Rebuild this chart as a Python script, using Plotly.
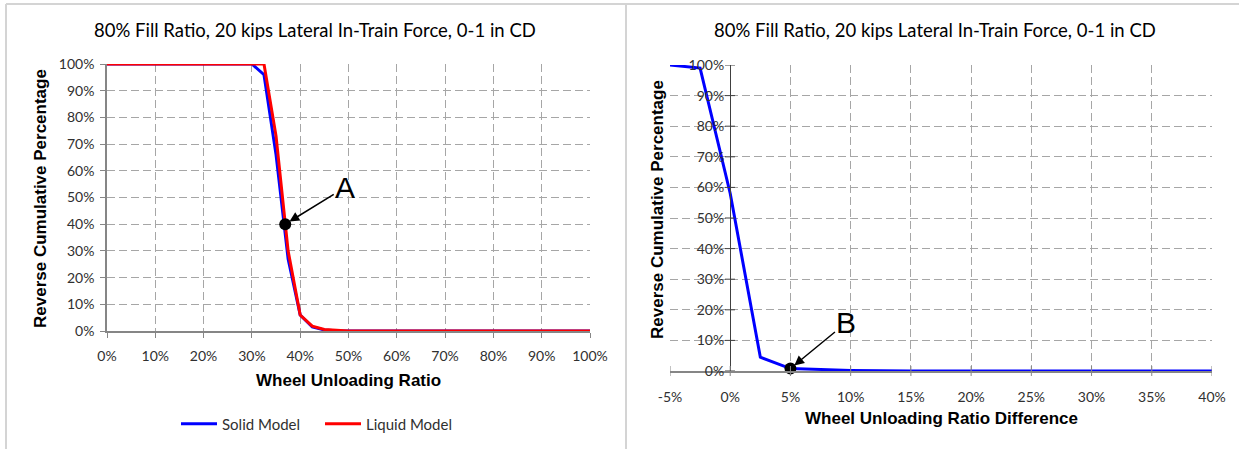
import plotly.graph_objects as go

# ---- data -------------------------------------------------------------
solid_x = [0.0, 0.30, 0.325, 0.35, 0.375, 0.40, 0.425, 0.45, 0.475, 0.50, 1.00]
solid_y = [1.00, 1.00, 0.96, 0.66, 0.27, 0.06, 0.015, 0.004, 0.001, 0.0, 0.0]

liquid_x = [0.0, 0.325, 0.35, 0.375, 0.40, 0.425, 0.45, 0.475, 0.50, 1.00]
liquid_y = [1.00, 1.00, 0.73, 0.30, 0.06, 0.018, 0.006, 0.002, 0.0, 0.0]

diff_x = [-0.05, -0.025, 0.0, 0.025, 0.05, 0.075, 0.10, 0.125, 0.15, 0.40]
diff_y = [1.00, 0.99, 0.58, 0.045, 0.008, 0.004, 0.002, 0.0005, 0.0, 0.0]

point_a = (0.369, 0.40)
point_b = (0.05, 0.008)

title_text = "80% Fill Ratio, 20 kips Lateral In-Train Force, 0-1 in CD"
left_x_ticks = [i / 10 for i in range(11)]
left_x_labels = [f"{i * 10}%" for i in range(11)]
right_x_ticks = [i / 100 for i in range(-5, 41, 5)]
right_x_labels = [f"{i}%" for i in range(-5, 41, 5)]
y_ticks = [i / 10 for i in range(11)]
y_labels = [f"{i * 10}%" for i in range(11)]

# ---- layout geometry (pixels -> paper) ---------------------------------
W, H = 1239, 449
def px(x):
    return x / W
def py(y):
    return 1 - y / H

GRID = "#a6a6a6"
AXIS = "#868686"
TICKFONT = dict(family="Lato", size=14, color="#303030")
AXTITLE = dict(family="Liberation Sans", size=17, color="#000000")
TITLEFONT = dict(family="Lato", size=18.5, color="#000000")
LETTERFONT = dict(family="Liberation Sans", size=30, color="black")

fig = go.Figure()

fig.add_trace(go.Scatter(x=solid_x, y=solid_y, mode="lines", name="Solid Model",
                         line=dict(color="#0000ff", width=3), cliponaxis=False,
                         xaxis="x", yaxis="y"))
fig.add_trace(go.Scatter(x=liquid_x, y=liquid_y, mode="lines", name="Liquid Model",
                         line=dict(color="#ff0000", width=3), cliponaxis=False,
                         xaxis="x", yaxis="y"))
fig.add_trace(go.Scatter(x=[point_a[0]], y=[point_a[1]], mode="markers", showlegend=False,
                         marker=dict(color="black", size=12), cliponaxis=False,
                         xaxis="x", yaxis="y"))

fig.add_trace(go.Scatter(x=diff_x, y=diff_y, mode="lines", showlegend=False,
                         line=dict(color="#0000ff", width=3), cliponaxis=False,
                         xaxis="x2", yaxis="y2"))
fig.add_trace(go.Scatter(x=[point_b[0]], y=[point_b[1]], mode="markers", showlegend=False,
                         marker=dict(color="black", size=12), cliponaxis=False,
                         xaxis="x2", yaxis="y2"))

common = dict(showgrid=True, gridcolor=GRID, griddash="8px,4px", gridwidth=1,
              zeroline=False, tickfont=TICKFONT, fixedrange=True, automargin=False)

fig.update_layout(
    width=W, height=H,
    margin=dict(l=0, r=0, t=0, b=0, autoexpand=False),
    paper_bgcolor="white", plot_bgcolor="white",
    showlegend=True,
    legend=dict(orientation="h", x=px(176), y=py(424), xanchor="left", yanchor="middle",
                font=dict(family="Lato", size=15, color="#303030"),
                itemwidth=36, entrywidth=93, tracegroupgap=0,
                bgcolor="rgba(0,0,0,0)"),
    xaxis=dict(domain=[px(107), px(590)], range=[0, 1], anchor="y",
               tickvals=left_x_ticks, ticktext=left_x_labels, ticklabelstandoff=6,
               showline=True, linecolor=AXIS, linewidth=1.5,
               ticks="outside", ticklen=5, tickcolor=AXIS, **common),
    yaxis=dict(domain=[py(331), py(64)], range=[0, 1], anchor="x",
               tickvals=y_ticks, ticktext=y_labels, ticklabelstandoff=3,
               showline=True, linecolor=AXIS, linewidth=1.5,
               ticks="outside", ticklen=5, tickcolor=AXIS, **common),
    xaxis2=dict(domain=[px(670), px(1212)], range=[-0.05, 0.40], anchor="y2",
                tickvals=right_x_ticks, ticktext=right_x_labels, ticklabelstandoff=12,
                showline=True, linecolor=AXIS, linewidth=1.5,
                ticks="", **common),
    yaxis2=dict(domain=[py(371), py(65)], range=[0, 1], anchor="free",
                position=px(730), tickvals=y_ticks, ticktext=y_labels,
                ticklabelstandoff=3,
                showline=True, linecolor="#404040", linewidth=1,
                ticks="", **common),
)

# crossing tick marks on the right-hand axes
shapes = []
for t in right_x_ticks:
    shapes.append(dict(type="line", xref="x2", yref="paper", x0=t, x1=t,
                       y0=py(366), y1=py(376), line=dict(color=AXIS, width=1)))
for t in y_ticks:
    shapes.append(dict(type="line", xref="paper", yref="y2", x0=px(725), x1=px(735),
                       y0=t, y1=t, line=dict(color="#404040", width=1)))

# panel frames
FRAME = "#d4d4d4"
shapes.append(dict(type="line", xref="paper", yref="paper", x0=px(6), x1=1,
                   y0=py(4), y1=py(4), line=dict(color=FRAME, width=2)))
shapes.append(dict(type="line", xref="paper", yref="paper", x0=px(6), x1=px(6),
                   y0=py(4), y1=0, line=dict(color=FRAME, width=2)))
shapes.append(dict(type="line", xref="paper", yref="paper", x0=px(626), x1=px(626),
                   y0=py(4), y1=0, line=dict(color=FRAME, width=2)))
fig.update_layout(shapes=shapes)

def label(text, x, y, font, angle=0):
    return dict(text=text, xref="paper", yref="paper", x=px(x), y=py(y),
                xanchor="center", yanchor="middle", showarrow=False,
                textangle=angle, font=font)

annotations = [
    label(title_text, 315, 30, TITLEFONT),
    label(title_text, 935, 30, TITLEFONT),
    label("<b>Wheel Unloading Ratio</b>", 348, 380, AXTITLE),
    label("<b>Reverse Cumulative Percentage</b>", 40, 199, AXTITLE, -90),
    label("<b>Wheel Unloading Ratio Difference</b>", 941, 418, AXTITLE),
    label("<b>Reverse Cumulative Percentage</b>", 657, 210, AXTITLE, -90),
    dict(text="A", xref="x", yref="y", x=point_a[0], y=point_a[1],
         ax=60, ay=-37, showarrow=True, arrowhead=2, arrowsize=1.3, arrowwidth=1.5,
         arrowcolor="black", standoff=5, font=LETTERFONT),
    dict(text="B", xref="x2", yref="y2", x=point_b[0], y=point_b[1],
         ax=56, ay=-46, showarrow=True, arrowhead=2, arrowsize=1.3, arrowwidth=1.5,
         arrowcolor="black", standoff=5, font=LETTERFONT),
]
fig.update_layout(annotations=annotations)

fig.write_html("out.html")
